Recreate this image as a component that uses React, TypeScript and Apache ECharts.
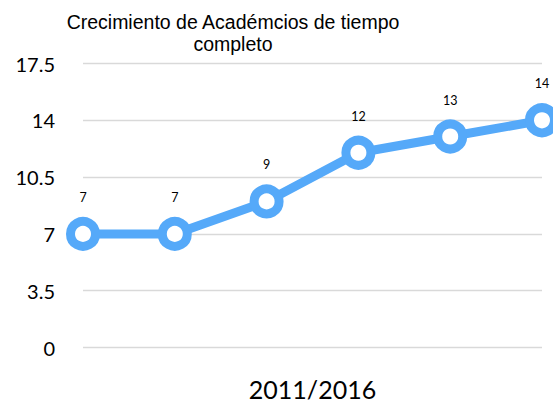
import React, { useEffect, useRef } from "react";
import * as echarts from "echarts";

const categories = ["2011", "2012", "2013", "2014", "2015", "2016"];
const values = [7, 7, 9, 12, 13, 14];
const yTicks = [0, 3.5, 7, 10.5, 14, 17.5];
const titleText = "Crecimiento de Académcios de tiempo\ncompleto";
const xName = "2011/2016";

export default function App() {
  const ref = useRef<HTMLDivElement>(null);
  useEffect(() => {
    const chart = echarts.init(ref.current!, null, { renderer: "svg" });
    chart.setOption({
      animation: false,
      backgroundColor: "#ffffff",
      title: {
        text: titleText,
        left: 233,
        top: 11,
        textAlign: "center",
        padding: 0,
        textStyle: {
          fontFamily: "Liberation Sans",
          fontSize: 19.5,
          fontWeight: "normal",
          color: "#000000",
          lineHeight: 22,
        },
      },
      grid: {
        left: 83,
        right: 11,
        top: 63.5,
        bottom: 57.5,
        containLabel: false,
        outerBoundsMode: "none",
      },
      xAxis: {
        type: "category",
        data: categories,
        boundaryGap: false,
        axisLabel: { show: false },
        axisTick: { show: false },
        axisLine: { show: false },
        name: xName,
        nameLocation: "middle",
        nameGap: 29,
        nameTextStyle: { fontFamily: "Lato", fontSize: 25, color: "#000000" },
      },
      yAxis: {
        type: "value",
        min: yTicks[0],
        max: yTicks[yTicks.length - 1],
        interval: 3.5,
        axisLabel: {
          fontFamily: "Lato",
          fontSize: 20,
          color: "#000000",
          margin: 28,
        },
        axisLine: { show: false },
        axisTick: { show: false },
        splitLine: { lineStyle: { color: "#d9d9d9", width: 1.3 } },
      },
      series: [
        {
          type: "line",
          data: values,
          symbol: "circle",
          symbolSize: 25,
          lineStyle: { color: "#55A9F9", width: 9 },
          itemStyle: { color: "#ffffff", borderColor: "#55A9F9", borderWidth: 9 },
          label: {
            show: true,
            position: "top",
            distance: 13,
            fontFamily: "Lato",
            fontSize: 12.5,
            color: "#000000",
          },
          emphasis: { disabled: true },
        },
      ],
    });
    return () => chart.dispose();
  }, []);
  return (
    <div
      ref={ref}
      style={{ position: "absolute", left: 0, top: 0, width: 553, height: 405 }}
    />
  );
}
